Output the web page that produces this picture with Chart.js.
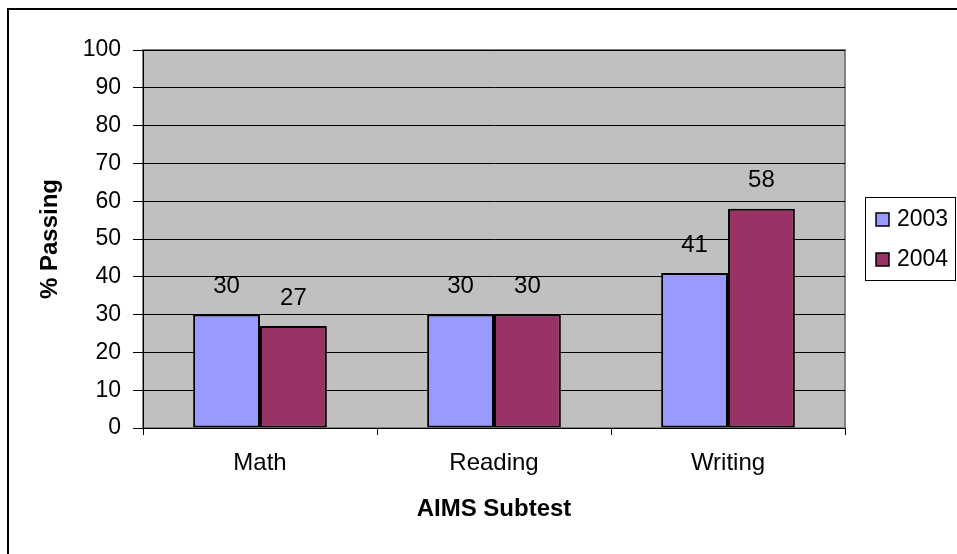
<!DOCTYPE html>
<html lang="en">
<head>
    <meta charset="UTF-8">
    <title>AIMS Subtest % Passing</title>
    <style>
        html, body { margin: 0; padding: 0; background: #fff; }
        #wrap { width: 957px; height: 554px; position: relative; }
    </style>
</head>
<body>
    <div id="wrap"><canvas id="grafico"></canvas></div>

    <script src="https://cdn.jsdelivr.net/npm/chart.js@4.4.1/dist/chart.umd.min.js"></script>
    <script>
        // datos
        const categorias = ['Math', 'Reading', 'Writing'];
        const valores2003 = [30, 30, 41];
        const valores2004 = [27, 30, 58];
        const etiquetasSeries = ['2003', '2004'];
        const marcasY = [0, 10, 20, 30, 40, 50, 60, 70, 80, 90, 100];

        const fuente = '"Liberation Sans", Arial, sans-serif';

        // fondo gris del area de trazado y marco exterior
        const fondoPlugin = {
            id: 'fondo',
            beforeDraw(chart) {
                const { ctx, chartArea: a } = chart;
                ctx.save();
                ctx.fillStyle = '#fff';
                ctx.fillRect(0, 0, chart.width, chart.height);
                ctx.strokeStyle = '#000';
                ctx.lineWidth = 2;
                ctx.strokeRect(8, 9, chart.width + 20, chart.height + 20);
                ctx.fillStyle = '#C0C0C0';
                ctx.fillRect(a.left, a.top, a.right - a.left, a.bottom - a.top);
                ctx.strokeStyle = '#808080';
                ctx.lineWidth = 2;
                ctx.strokeRect(a.left, a.top, a.right - a.left, a.bottom - a.top);
                ctx.restore();
            }
        };

        // etiquetas de valor encima de cada barra
        const valoresPlugin = {
            id: 'valores',
            afterDatasetsDraw(chart) {
                const ctx = chart.ctx;
                ctx.save();
                ctx.font = '24px ' + fuente;
                ctx.fillStyle = '#000';
                ctx.textAlign = 'center';
                ctx.textBaseline = 'middle';
                chart.data.datasets.forEach((ds, i) => {
                    chart.getDatasetMeta(i).data.forEach((barra, j) => {
                        ctx.fillText(String(ds.data[j]), barra.x, barra.y - 28);
                    });
                });
                ctx.restore();
            }
        };

        // leyenda con recuadro a la derecha
        const leyendaPlugin = {
            id: 'leyendaCaja',
            afterDraw(chart) {
                const ctx = chart.ctx;
                ctx.save();
                ctx.strokeStyle = '#000';
                ctx.lineWidth = 1;
                ctx.strokeRect(865.5, 197.5, 90, 83);
                ctx.font = '23px ' + fuente;
                ctx.textAlign = 'left';
                ctx.textBaseline = 'middle';
                chart.data.datasets.forEach((ds, i) => {
                    const yc = 219.5 + i * 40;
                    ctx.fillStyle = ds.backgroundColor;
                    ctx.fillRect(876, yc - 6.5, 13, 13);
                    ctx.lineWidth = 1.5;
                    ctx.strokeStyle = '#000';
                    ctx.strokeRect(876, yc - 6.5, 13, 13);
                    ctx.fillStyle = '#000';
                    ctx.fillText(ds.label, 897, yc);
                });
                ctx.restore();
            }
        };

        const ctx = document.getElementById('grafico').getContext('2d');
        const grafico = new Chart(ctx, {
            type: 'bar',
            data: {
                labels: categorias,
                datasets: [{
                    label: etiquetasSeries[0],
                    data: valores2003,
                    backgroundColor: '#9999FF',
                    borderColor: '#000',
                    borderWidth: 2,
                    borderSkipped: false
                }, {
                    label: etiquetasSeries[1],
                    data: valores2004,
                    backgroundColor: '#993366',
                    borderColor: '#000',
                    borderWidth: 2,
                    borderSkipped: false
                }]
            },
            options: {
                responsive: true,
                maintainAspectRatio: false,
                animation: false,
                devicePixelRatio: 1,
                layout: { padding: { left: 0, right: 112, top: 50, bottom: 0 } },
                datasets: { bar: { categoryPercentage: 2 / 3.5, barPercentage: 1 } },
                plugins: {
                    legend: { display: false },
                    tooltip: { enabled: false }
                },
                scales: {
                    x: {
                        afterFit(scale) { scale.height = 126; },
                        grid: { drawOnChartArea: false, drawTicks: true, tickLength: 7, color: '#000', tickColor: '#000' },
                        border: { color: '#000', width: 1 },
                        ticks: { color: '#000', padding: 14, font: { family: fuente, size: 24 } },
                        title: {
                            display: true,
                            text: 'AIMS Subtest',
                            color: '#000',
                            font: { family: fuente, size: 24, weight: 'bold' },
                            padding: { top: 0, bottom: 30 }
                        }
                    },
                    y: {
                        min: 0,
                        max: 100,
                        afterFit(scale) { scale.width = 143; },
                        afterBuildTicks(scale) { scale.ticks = marcasY.map(v => ({ value: v })); },
                        grid: { color: '#000', lineWidth: 1, tickLength: 10, tickColor: '#000' },
                        border: { color: '#000', width: 1 },
                        ticks: { color: '#000', padding: 12, font: { family: fuente, size: 23 } },
                        title: {
                            display: true,
                            text: '% Passing',
                            color: '#000',
                            font: { family: fuente, size: 24, weight: 'bold' },
                            padding: { top: 36, bottom: 0 }
                        }
                    }
                }
            },
            plugins: [fondoPlugin, valoresPlugin, leyendaPlugin]
        });
    </script>
</body>
</html>
